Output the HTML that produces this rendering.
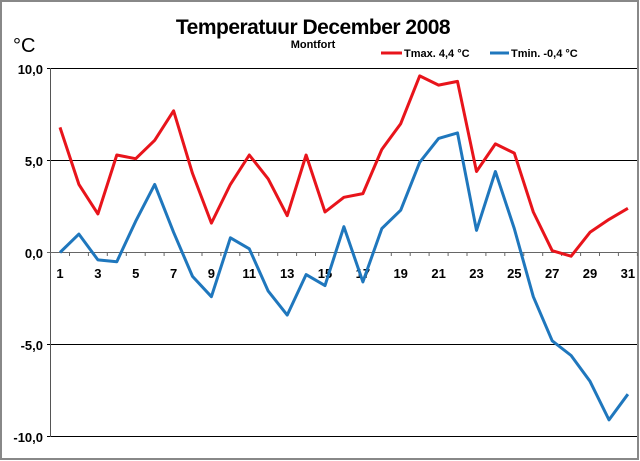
<!DOCTYPE html>
<html><head><style>
html,body{margin:0;padding:0;background:#fff}
svg{display:block;font-family:"Liberation Sans",Arial,sans-serif}
</style></head><body>
<svg id="s" width="640" height="461" viewBox="0 0 640 461" xmlns="http://www.w3.org/2000/svg">
<rect x="1" y="1" width="637" height="458" fill="#fff" stroke="#888" stroke-width="2"/>
<text x="313" y="34" font-size="21" font-weight="bold" text-anchor="middle" letter-spacing="-0.5">Temperatuur December 2008</text>
<text x="13" y="52" font-size="20">°C</text>
<text x="313" y="48" font-size="11" font-weight="bold" text-anchor="middle">Montfort</text>
<line x1="381" y1="53" x2="402" y2="53" stroke="#e8141b" stroke-width="3"/>
<text x="404" y="57" font-size="11" font-weight="bold">Tmax. 4,4 °C</text>
<line x1="490" y1="53" x2="509" y2="53" stroke="#1f77bd" stroke-width="3"/>
<text x="511" y="57" font-size="11" font-weight="bold">Tmin. -0,4 °C</text>
<g stroke="#000" stroke-width="1">
<line x1="47" y1="68.5" x2="637" y2="68.5"/>
<line x1="47" y1="160.5" x2="637" y2="160.5"/>
<line x1="47" y1="344.5" x2="637" y2="344.5"/>
<line x1="47" y1="436.5" x2="637" y2="436.5"/>
</g>
<line x1="50.5" y1="68" x2="50.5" y2="437" stroke="#555"/>
<line x1="47" y1="252.5" x2="637" y2="252.5" stroke="#666"/>
<g font-size="13" font-weight="bold" text-anchor="end">
<text x="43" y="74">10,0</text>
<text x="43" y="166">5,0</text>
<text x="43" y="258">0,0</text>
<text x="43" y="350">-5,0</text>
<text x="43" y="442">-10,0</text>
</g>
<g id="ticks" stroke="#666"></g>
<g id="lab" font-size="13" font-weight="bold" text-anchor="middle"></g>
<polyline id="mx" fill="none" stroke="#e8141b" stroke-width="3" stroke-linejoin="round"/>
<polyline id="mn" fill="none" stroke="#1f77bd" stroke-width="3" stroke-linejoin="round"/>
</svg>
<script>
var mx=[6.8,3.7,2.1,5.3,5.1,6.1,7.7,4.3,1.6,3.7,5.3,4.0,2.0,5.3,2.2,3.0,3.2,5.6,7.0,9.6,9.1,9.3,4.4,5.9,5.4,2.2,0.1,-0.2,1.1,1.8,2.4];
var mn=[0.0,1.0,-0.4,-0.5,1.7,3.7,1.1,-1.3,-2.4,0.8,0.2,-2.1,-3.4,-1.2,-1.8,1.4,-1.6,1.3,2.3,4.9,6.2,6.5,1.2,4.4,1.3,-2.4,-4.8,-5.6,-7.0,-9.1,-7.7];
function X(i){return 60+i*18.93}function Y(v){return 252.5-v*18.4}
function pts(a){return a.map(function(v,i){return X(i).toFixed(1)+","+Y(v).toFixed(1)}).join(" ")}
document.getElementById("mx").setAttribute("points",pts(mx));
document.getElementById("mn").setAttribute("points",pts(mn));
var t="",l="";
for(var i=0;i<=31;i++){var x=(X(i)-9.47).toFixed(1);t+='<line x1="'+x+'" y1="252.5" x2="'+x+'" y2="256"/>';}
for(var i=0;i<31;i+=2){l+='<text x="'+X(i).toFixed(1)+'" y="278">'+(i+1)+'</text>';}
document.getElementById("ticks").innerHTML=t;
document.getElementById("lab").innerHTML=l;
</script>
</body></html>
